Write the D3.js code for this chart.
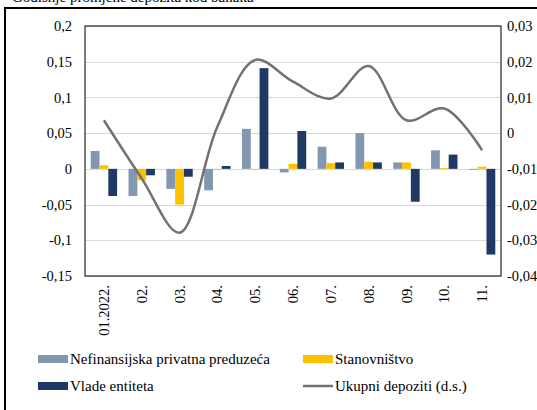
<!doctype html>
<html>
<head>
  <meta charset="utf-8">
  <style>
      body { margin:0; background:#fff; }
      svg { width:537px; height:410px; display:block; }
      text { font-family:"Liberation Serif","Times New Roman",serif; font-size:14.5px; fill:#000; }
      .grid line { stroke:#d9d9d9; stroke-width:1.3; shape-rendering:crispEdges; }
  </style>
  <script src="https://d3js.org/d3.v7.min.js"></script>
</head>
<body>
  <script>
      // Data
      var months = ["01.2022.","02.","03.","04.","05.","06.","07.","08.","09.","10.","11."];
      var preduzeca = [0.025,-0.038,-0.028,-0.030,0.056,-0.005,0.031,0.050,0.009,0.026,-0.001];
      var stanovnistvo = [0.005,-0.016,-0.050,-0.001,-0.001,0.007,0.008,0.010,0.009,0.001,0.003];
      var vlade = [-0.038,-0.009,-0.011,0.004,0.141,0.053,0.009,0.009,-0.046,0.020,-0.120];
      var ukupni = [0.0036,-0.0127,-0.0279,0.0018,0.0205,0.0144,0.0097,0.0188,0.0036,0.0069,-0.0048];
      var leftTicks = [0.2,0.15,0.1,0.05,0,-0.05,-0.1,-0.15];
      var rightTicks = [0.03,0.02,0.01,0,-0.01,-0.02,-0.03,-0.04];

      var series = [
         {name:"Nefinansijska privatna preduzeća", values:preduzeca, color:"#8497b0"},
         {name:"Stanovništvo", values:stanovnistvo, color:"#ffc000"},
         {name:"Vlade entiteta", values:vlade, color:"#203864"}
      ];

      // plot area
      var plotL=85, plotR=501, plotT=26, plotB=276;

      var svg = d3.select("body").append("svg");

      // outer frame + cut title
      svg.append("text").attr("x",12).attr("y",2).style("font-size","15px")
         .text("Godišnje promjene depozita kod banaka");
      svg.append("rect").attr("x",5).attr("y",8).attr("width",540).attr("height",410)
         .attr("fill","#fff").attr("stroke","#000").attr("stroke-width",2);

      var x = d3.scaleBand().domain(months).range([plotL,plotR]);
      var y = d3.scaleLinear().domain([-0.15,0.2]).range([plotB,plotT]);
      var y2 = d3.scaleLinear().domain([-0.04,0.03]).range([plotB,plotT]);
      var fmt = function(d){ return String(+d.toFixed(3)).replace(".",","); };

      // grid
      svg.append("g").attr("class","grid").selectAll("line")
         .data(leftTicks).enter().append("line")
         .attr("x1",plotL).attr("x2",plotR)
         .attr("y1",function(d){return Math.round(y(d))+0.5;})
         .attr("y2",function(d){return Math.round(y(d))+0.5;});

      // bars
      var bw = 8.8;
      var groups = svg.append("g");
      series.forEach(function(s,k){
         groups.selectAll(".b"+k).data(s.values).enter().append("rect")
            .attr("class","b"+k)
            .attr("x",function(d,i){ return x(months[i]) + x.bandwidth()/2 - 1.5*bw + k*bw; })
            .attr("width",bw)
            .attr("y",function(d){ return y(Math.max(0,d)); })
            .attr("height",function(d){ return Math.max(0.8,Math.abs(y(d)-y(0))); })
            .attr("fill",s.color);
      });

      // line on right axis
      var line = d3.line()
         .x(function(d,i){ return x(months[i]) + x.bandwidth()/2; })
         .y(function(d){ return y2(d); })
         .curve(d3.curveCatmullRom.alpha(0.5));
      svg.append("path").datum(ukupni).attr("d",line)
         .attr("fill","none").attr("stroke","#767171").attr("stroke-width",2.5);

      // plot box
      svg.append("rect").attr("x",plotL).attr("y",plotT).attr("width",plotR-plotL).attr("height",plotB-plotT)
         .attr("fill","none").attr("stroke","#262626").attr("stroke-width",1.2);

      // axes
      var yAxis = d3.axisLeft(y).tickValues(leftTicks).tickFormat(fmt).tickSize(0).tickPadding(13);
      var gy = svg.append("g").attr("transform","translate("+plotL+",0)").call(yAxis);
      gy.select(".domain").remove();

      var y2Axis = d3.axisRight(y2).tickValues(rightTicks).tickFormat(fmt).tickSize(0).tickPadding(6);
      var gy2 = svg.append("g").attr("transform","translate("+plotR+",0)").call(y2Axis);
      gy2.select(".domain").remove();

      var xAxis = d3.axisBottom(x).tickSize(0).tickPadding(0);
      var gx = svg.append("g").attr("transform","translate(0,"+plotB+")").call(xAxis);
      gx.select(".domain").remove();
      gx.selectAll("text")
         .attr("transform","rotate(-90)")
         .attr("x",-9).attr("y",0).attr("dy","0.35em")
         .style("text-anchor","end");
      svg.selectAll(".tick text").style("font-family","Liberation Serif, serif").style("font-size","14.5px").style("fill","#000");

      // legend
      var legend = [
         {name:series[0].name, color:series[0].color, type:"rect", x:38, y:359},
         {name:series[1].name, color:series[1].color, type:"rect", x:303, y:359},
         {name:series[2].name, color:series[2].color, type:"rect", x:38, y:386},
         {name:"Ukupni depoziti (d.s.)", color:"#767171", type:"line", x:303, y:386}
      ];
      var lg = svg.append("g").selectAll("g").data(legend).enter().append("g")
         .attr("transform",function(d){ return "translate("+d.x+","+d.y+")"; });
      lg.filter(function(d){return d.type=="rect";}).append("rect")
         .attr("x",0).attr("y",-4).attr("width",30).attr("height",8)
         .attr("fill",function(d){return d.color;});
      lg.filter(function(d){return d.type=="line";}).append("line")
         .attr("x1",0).attr("x2",30).attr("y1",0).attr("y2",0)
         .attr("stroke",function(d){return d.color;}).attr("stroke-width",2.5);
      lg.append("text").attr("x",32).attr("y",0).attr("dy","0.35em").style("font-size","15px")
         .text(function(d){return d.name;});
  </script>
</body>
</html>
